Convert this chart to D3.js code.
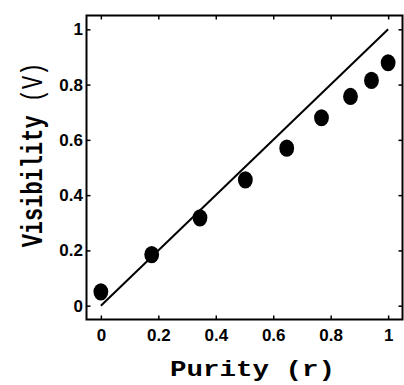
<!DOCTYPE html>
<html>
<head>
<meta charset="utf-8">
<script src="https://cdn.jsdelivr.net/npm/d3@7"></script>
<style>
  body { margin: 0; background: #fff; }
  svg { display: block; }
</style>
</head>
<body>
<div id="chart"></div>
<script>
// measured points (purity r, visibility V)
let purity = [0, 0.177, 0.345, 0.503, 0.647, 0.768, 0.869, 0.942, 1.0]
let visibility = [0.05, 0.185, 0.318, 0.455, 0.57, 0.68, 0.757, 0.815, 0.879]

// theory line V = r
let lineX = [0, 1]
let lineY = [0, 1]

let tickVals = [0, 0.2, 0.4, 0.6, 0.8, 1]
let tickLabels = ['0', '0.2', '0.4', '0.6', '0.8', '1']

let width = 404
let height = 385
let margin = { top: 15.5, right: 1.5, bottom: 65.5, left: 86.5 }

let svg = d3.select('#chart')
  .append('svg')
  .attr('width', width)
  .attr('height', height)

let x = d3.scaleLinear()
  .domain([-0.05, 1.05])
  .range([margin.left, width - margin.right])

let y = d3.scaleLinear()
  .domain([-0.05, 1.05])
  .range([height - margin.bottom, margin.top])

let tickFmt = d => tickLabels[tickVals.indexOf(d)]

// axes (ticks point inward, on all four sides)
function styleAxis (g) {
  g.select('.domain').remove()
  g.selectAll('.tick line').attr('stroke', '#000').attr('stroke-width', 1.5)
  g.selectAll('.tick text')
    .attr('fill', '#000')
    .style('font-family', 'Arial, "Liberation Sans", sans-serif')
    .style('font-weight', 'bold')
    .style('font-size', '17px')
}

svg.append('g')
  .attr('transform', 'translate(0,' + y.range()[0] + ')')
  .call(d3.axisBottom(x).tickValues(tickVals).tickFormat(tickFmt).tickSize(-4).tickPadding(9))
  .call(styleAxis)

svg.append('g')
  .attr('transform', 'translate(' + x.range()[0] + ',0)')
  .call(d3.axisLeft(y).tickValues(tickVals).tickFormat(tickFmt).tickSize(-4).tickPadding(3.5))
  .call(styleAxis)

svg.append('g')
  .attr('transform', 'translate(0,' + y.range()[1] + ')')
  .call(d3.axisTop(x).tickValues(tickVals).tickFormat('').tickSize(-4))
  .call(styleAxis)

svg.append('g')
  .attr('transform', 'translate(' + x.range()[1] + ',0)')
  .call(d3.axisRight(y).tickValues(tickVals).tickFormat('').tickSize(-4))
  .call(styleAxis)

// box
svg.append('rect')
  .attr('x', x.range()[0])
  .attr('y', y.range()[1])
  .attr('width', x.range()[1] - x.range()[0])
  .attr('height', y.range()[0] - y.range()[1])
  .attr('fill', 'none')
  .attr('stroke', '#000')
  .attr('stroke-width', 2)

// theory line
svg.append('path')
  .datum(lineX.map((d, i) => [d, lineY[i]]))
  .attr('d', d3.line().x(d => x(d[0])).y(d => y(d[1])))
  .attr('fill', 'none')
  .attr('stroke', '#000')
  .attr('stroke-width', 2)

// data markers
svg.append('g')
  .selectAll('ellipse')
  .data(purity)
  .enter()
  .append('ellipse')
  .attr('cx', d => x(d))
  .attr('cy', (d, i) => y(visibility[i]))
  .attr('rx', 7.4)
  .attr('ry', 8.6)
  .attr('fill', '#000')

// axis titles
svg.append('text')
  .attr('x', 252.5)
  .attr('y', 376)
  .attr('text-anchor', 'middle')
  .attr('textLength', 165)
  .attr('lengthAdjust', 'spacingAndGlyphs')
  .style('font-family', '"Courier New", "Liberation Mono", monospace')
  .style('font-weight', 'bold')
  .style('font-size', '22px')
  .text('Purity (r)')

let yTitle = svg.append('text')
  .attr('transform', 'translate(41.5,155) rotate(-90) scale(1,1.3)')
  .attr('text-anchor', 'middle')
  .style('font-family', '"Courier New", "Liberation Mono", monospace')
  .style('font-size', '22px')

yTitle.append('tspan').style('font-weight', 'bold').text('Visibility ')
yTitle.append('tspan').style('font-weight', 'normal').text('(V)')
</script>
</body>
</html>
